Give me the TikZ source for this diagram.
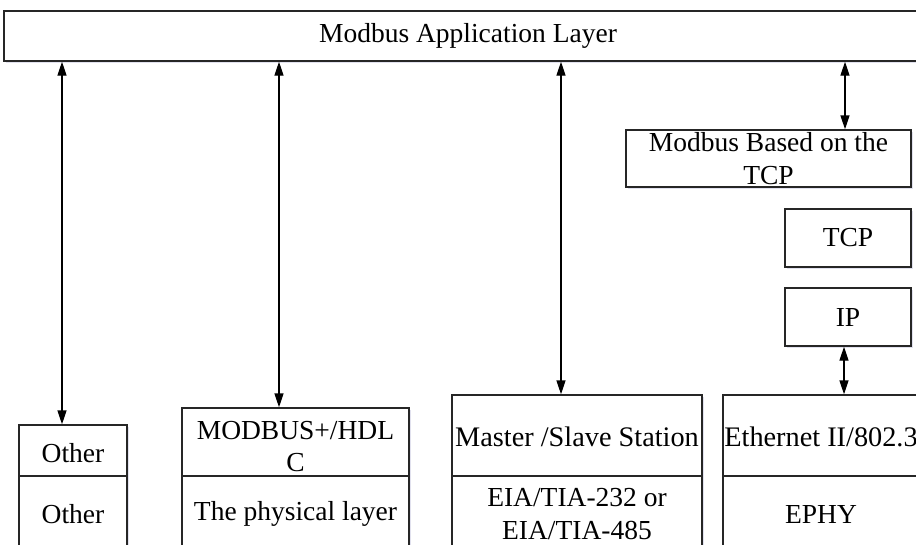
\documentclass[tikz,border=0pt]{standalone}
\usepackage{fontspec}
\setmainfont{Liberation Serif}
\usetikzlibrary{arrows.meta,shadows}
\begin{document}
\begin{tikzpicture}[x=1pt,y=-1pt,
  box/.style={draw=black!85, line width=1.4pt, fill=white, inner sep=0pt, align=center,
    font=\fontsize{27.5}{33}\selectfont,
    drop shadow={shadow xshift=1.5pt,shadow yshift=-2pt,fill=blue!30!gray,opacity=0.18}},
  boxtext/.style={inner sep=0pt, align=center, font=\fontsize{27.5}{32}\selectfont},
  arr/.style={line width=1.4pt, {Triangle[length=14pt,width=9pt]}-{Triangle[length=14pt,width=9pt]}}]
\useasboundingbox (0,0) rectangle (916,544);
\fill[white] (0,0) rectangle (916,544);
\begin{scope}
\clip (0,0) rectangle (916,544);
\node[box, minimum width=928pt, minimum height=50pt] (app) at (468,36) {Modbus Application Layer};

\node[box, minimum width=285pt, minimum height=57pt] (mbt) at (768.5,158.5) {Modbus Based on the\\TCP};
\node[box, minimum width=126pt, minimum height=58pt] (tcp) at (848,238) {TCP};
\node[box, minimum width=126pt, minimum height=58pt] (ip) at (848,317) {IP};

\node[box, minimum width=108pt, minimum height=51pt] (other1) at (73,450.5) {};
\node[boxtext] (other1t) at ([yshift=-3pt]other1.center) {Other};
\node[box, minimum width=108pt, minimum height=76pt] (other2) at (73,514) {Other};

\node[box, minimum width=227pt, minimum height=68pt] (mh1) at (295.5,442) {};
\node[boxtext] (mh1t) at ([yshift=-5pt]mh1.center) {MODBUS+/HDL\\C};
\node[box, minimum width=227pt, minimum height=76pt] (mh2) at (295.5,514) {The physical layer};

\node[box, minimum width=250pt, minimum height=81pt] (ms1) at (577,435.5) {};
\node[boxtext, font=\fontsize{28.3}{33}\selectfont] (ms1t) at ([yshift=-1pt]ms1.center) {Master /Slave Station};
\node[box, minimum width=250pt, minimum height=76pt] (ms2) at (577,514) {EIA/TIA-232 or\\EIA/TIA-485};

\node[box, minimum width=196pt, minimum height=81pt] (eth1) at (821,435.5) {};
\node[boxtext, font=\fontsize{28.3}{33}\selectfont] (eth1t) at ([yshift=-1pt]eth1.center) {Ethernet II/802.3};
\node[box, minimum width=196pt, minimum height=76pt] (eth2) at (821,514) {EPHY};

\draw[arr] ([xshift=-11pt]other1.north |- app.south) -- ([xshift=-11pt]other1.north);
\draw[arr] ([xshift=-16.5pt]mh1.north |- app.south) -- ([xshift=-16.5pt]mh1.north);
\draw[arr] ([xshift=-16pt]ms1.north |- app.south) -- ([xshift=-16pt]ms1.north);
\draw[arr] ([xshift=76.5pt]mbt.north |- app.south) -- ([xshift=76.5pt]mbt.north);
\draw[arr] ([xshift=-4pt]ip.south) -- ([xshift=-4pt]ip.south |- eth1.north);
\end{scope}
\end{tikzpicture}
\end{document}
